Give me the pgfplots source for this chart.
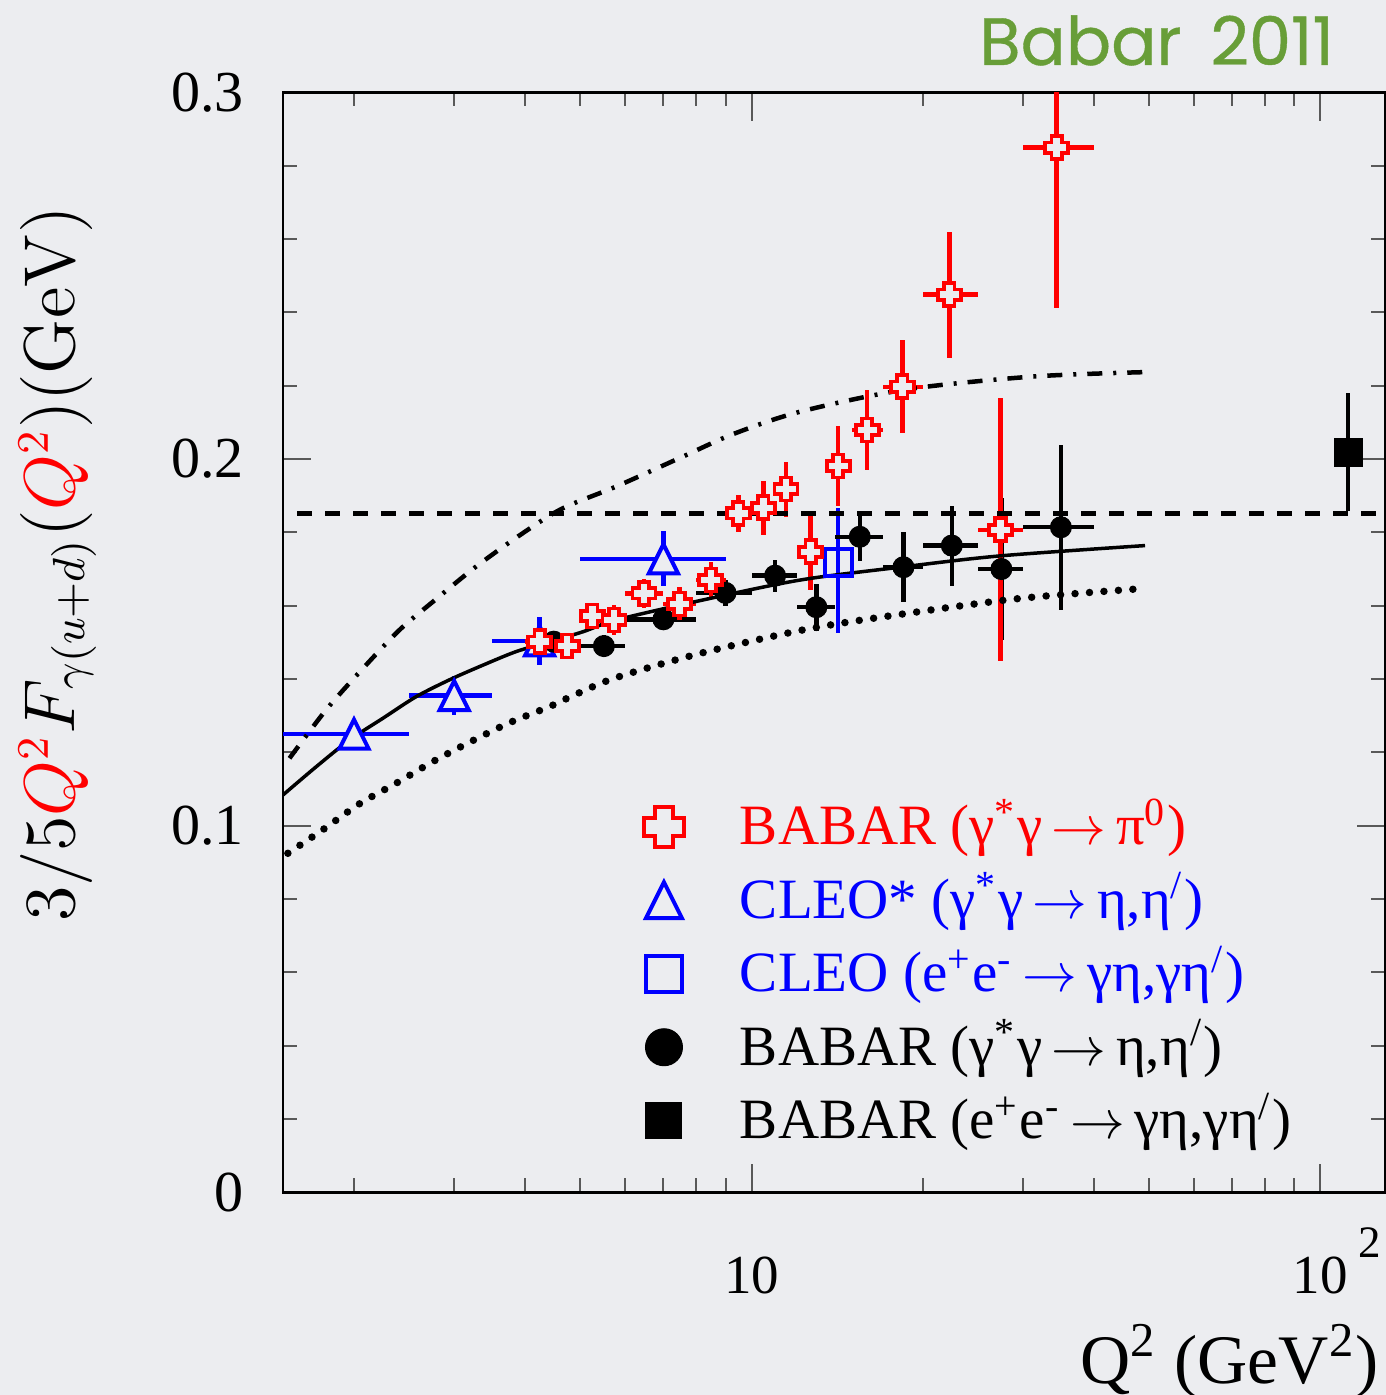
\documentclass[border=0pt]{standalone}
\usepackage[no-math]{fontspec}
\setmainfont{Liberation Serif}
\newfontfamily\titlefont{Poppins}[FakeBold=0.6]
\usepackage{pgfplots}
\usepackage{pgfplotstable}
\pgfplotsset{compat=1.18}

\definecolor{bg}{RGB}{236,237,240}
\definecolor{ttl}{RGB}{104,158,56}

\pgfdeclareplotmark{ocross}{%
 \pgfpathmoveto{\pgfqpoint{0.45\pgfplotmarksize}{\pgfplotmarksize}}%
 \pgfpathlineto{\pgfqpoint{0.45\pgfplotmarksize}{0.45\pgfplotmarksize}}%
 \pgfpathlineto{\pgfqpoint{\pgfplotmarksize}{0.45\pgfplotmarksize}}%
 \pgfpathlineto{\pgfqpoint{\pgfplotmarksize}{-0.45\pgfplotmarksize}}%
 \pgfpathlineto{\pgfqpoint{0.45\pgfplotmarksize}{-0.45\pgfplotmarksize}}%
 \pgfpathlineto{\pgfqpoint{0.45\pgfplotmarksize}{-\pgfplotmarksize}}%
 \pgfpathlineto{\pgfqpoint{-0.45\pgfplotmarksize}{-\pgfplotmarksize}}%
 \pgfpathlineto{\pgfqpoint{-0.45\pgfplotmarksize}{-0.45\pgfplotmarksize}}%
 \pgfpathlineto{\pgfqpoint{-\pgfplotmarksize}{-0.45\pgfplotmarksize}}%
 \pgfpathlineto{\pgfqpoint{-\pgfplotmarksize}{0.45\pgfplotmarksize}}%
 \pgfpathlineto{\pgfqpoint{-0.45\pgfplotmarksize}{0.45\pgfplotmarksize}}%
 \pgfpathlineto{\pgfqpoint{-0.45\pgfplotmarksize}{\pgfplotmarksize}}%
 \pgfpathclose
 \pgfusepathqfillstroke}

\pgfdeclareplotmark{otri}{%
 \pgfpathmoveto{\pgfqpoint{0pt}{\pgfplotmarksize}}%
 \pgfpathlineto{\pgfqpoint{-\pgfplotmarksize}{-\pgfplotmarksize}}%
 \pgfpathlineto{\pgfqpoint{\pgfplotmarksize}{-\pgfplotmarksize}}%
 \pgfpathclose
 \pgfusepathqfillstroke}

% BABAR gamma* gamma -> pi0
\pgfplotstableread{
x y xm xp ye
4.24 0.1502 0.24 0.26 0.0030
4.74 0.1490 0.24 0.26 0.0030
5.25 0.1572 0.25 0.25 0.0035
5.73 0.1561 0.23 0.27 0.0040
6.47 0.1634 0.47 0.53 0.0040
7.47 0.1605 0.47 0.53 0.0045
8.48 0.1670 0.48 0.52 0.0050
9.48 0.1852 0.48 0.52 0.0051
10.49 0.1867 0.49 0.51 0.0073
11.50 0.1918 0.50 0.50 0.0075
12.70 0.1747 0.70 0.80 0.0103
14.20 0.1981 0.70 0.80 0.0110
15.97 0.2079 0.97 1.03 0.0110
18.42 0.2197 1.42 1.58 0.0127
22.27 0.2448 2.27 2.73 0.0172
27.40 0.1807 2.40 2.60 0.0359
34.40 0.2849 4.40 5.60 0.0438
}\babarpi

% CLEO* gamma* gamma -> eta, eta'
\pgfplotstableread{
x y xm xp ye
2.00 0.1250 0.50 0.50 0.0030
3.00 0.1355 0.50 0.50 0.0053
4.24 0.1504 0.74 0.76 0.0065
7.00 0.1728 2.00 2.00 0.0075
}\cleotri

% CLEO e+e- -> gamma eta
\pgfplotstableread{
x y ym yp
14.2 0.1719 0.0192 0.0147
}\cleosq

% BABAR gamma* gamma -> eta, eta'
\pgfplotstableread{
x y xm xp ye
4.49 0.1502 0.49 0.51 0.0030
5.50 0.1490 0.50 0.50 0.0030
7.00 0.1563 1.00 1.00 0.0030
9.00 0.1635 1.00 1.00 0.0035
11.00 0.1682 1.00 1.00 0.0044
13.00 0.1596 1.00 1.00 0.0064
15.50 0.1788 1.50 1.50 0.0066
18.50 0.1705 1.50 1.50 0.0096
22.50 0.1764 2.50 2.50 0.0109
27.50 0.1700 2.50 2.50 0.0193
35.00 0.1814 5.00 5.00 0.0225
}\babareta

% BABAR e+e- -> gamma eta
\pgfplotstableread{
x y ye
112 0.2019 0.0162
}\babarsq

\newcommand{\arr}{\,$\rightarrow$\,}

\begin{document}
\begin{tikzpicture}[x=1pt,y=1pt]
\fill[bg] (0,0) rectangle (277.2,279);
\useasboundingbox (0,0) rectangle (277.2,279);
\begin{axis}[
  at={(56.6pt,40.5pt)}, anchor=south west,
  scale only axis, width=220.4pt, height=220.04pt,
  xmode=log, xmin=1.5, xmax=130, ymin=0, ymax=0.3,
  xtick={10,100},
  xticklabels={10,{10\rlap{\hspace{2.2pt}\raisebox{7.2pt}{\fontsize{9}{11}\selectfont 2}}}},
  minor xtick={2,3,4,5,6,7,8,9,20,30,40,50,60,70,80,90},
  ytick={0,0.1,0.2,0.3},
  yticklabels={0,0.1,0.2,0.3},
  minor y tick num=4,
  xtick pos=both, ytick pos=both,
  tick align=inside,
  major tick length=5.7pt, minor tick length=2.8pt,
  tick style={line width=0.4pt, color=black!65},
  axis line style={line width=0.5pt, black},
  xticklabel style={anchor=base, yshift=-20.3pt, font=\fontsize{11}{13}\selectfont},
  yticklabel style={xshift=-4.3pt, font=\fontsize{11.6}{13}\selectfont},
  legend image code/.code={\path (-6pt,0pt) (13.0pt,0pt); \draw[#1] plot coordinates {(0pt,3.65pt)};},
  legend style={at={(rel axis cs:0.3176,0.3704)}, anchor=north west,
     draw=none, fill=none, inner sep=0pt, outer sep=0pt,
     row sep=-0.8pt, column sep=0pt,
     font=\fontsize{11.4}{13}\selectfont,
     cells={anchor=base west, inner xsep=0pt, inner ysep=0pt, text height=10pt, text depth=3pt}},
]
% legend entries
\addlegendimage{only marks, mark=ocross, mark size=4pt, mark options={draw=red, fill=bg, line width=0.8pt}}
\addlegendentry{\textcolor{red}{BABAR (γ\textsuperscript{*}γ\arr π\textsuperscript{0})}}
\addlegendimage{only marks, mark=otri, mark size=3.6pt, mark options={draw=blue, fill=bg, line width=0.8pt}}
\addlegendentry{\textcolor{blue}{CLEO* (γ\textsuperscript{*}γ\arr η,η\textsuperscript{/})}}
\addlegendimage{only marks, mark=square, mark size=3.6pt, mark options={draw=blue, fill=bg, line width=0.8pt}}
\addlegendentry{\textcolor{blue}{CLEO (e\textsuperscript{+}e\textsuperscript{-}\arr γη,γη\textsuperscript{/})}}
\addlegendimage{only marks, mark=*, mark size=3.7pt, mark options={draw=black, fill=black, line width=0.2pt}}
\addlegendentry{BABAR (γ\textsuperscript{*}γ\arr η,η\textsuperscript{/})}
\addlegendimage{only marks, mark=square*, mark size=3.6pt, mark options={draw=black, fill=black, line width=0.2pt}}
\addlegendentry{BABAR (e\textsuperscript{+}e\textsuperscript{-}\arr γη,γη\textsuperscript{/})}

% CLEO* triangles
\addplot[forget plot, only marks, mark=otri, mark size=2.9pt,
  mark options={draw=blue, fill=bg, line width=0.8pt},
  error bars/.cd, x dir=both, x explicit, y dir=both, y explicit, error mark=none,
  error bar style={line width=0.9pt, blue}]
  table[x=x, y=y, x error minus=xm, x error plus=xp, y error=ye] {\cleotri};
% CLEO square
\addplot[forget plot, only marks, mark=square, mark size=2.7pt,
  mark options={draw=blue, fill=bg, line width=0.8pt},
  error bars/.cd, y dir=both, y explicit, error mark=none,
  error bar style={line width=0.9pt, blue}]
  table[x=x, y=y, y error minus=ym, y error plus=yp] {\cleosq};
% BABAR eta circles
\addplot[forget plot, only marks, mark=*, mark size=2.1pt,
  mark options={draw=black, fill=black, line width=0.2pt},
  error bars/.cd, x dir=both, x explicit, y dir=both, y explicit, error mark=none,
  error bar style={line width=0.9pt, black}]
  table[x=x, y=y, x error minus=xm, x error plus=xp, y error=ye] {\babareta};
% BABAR e+e- square
\addplot[forget plot, only marks, mark=square*, mark size=2.8pt,
  mark options={draw=black, fill=black, line width=0.2pt},
  error bars/.cd, y dir=both, y explicit, error mark=none,
  error bar style={line width=0.9pt, black}]
  table[x=x, y=y, y error=ye] {\babarsq};
% BABAR pi0 crosses
\addplot[forget plot, only marks, mark=ocross, mark size=2.3pt,
  mark options={draw=red, fill=bg, line width=0.75pt},
  error bars/.cd, x dir=both, x explicit, y dir=both, y explicit, error mark=none,
  error bar style={line width=0.9pt, red}]
  table[x=x, y=y, x error minus=xm, x error plus=xp, y error=ye] {\babarpi};

% asymptotic dashed line
\addplot[forget plot, black, line width=0.9pt, dash pattern=on 3pt off 2.6pt]
  coordinates {(1.59,0.1852) (130,0.1852)};
% solid curve
\addplot[forget plot, black, line width=0.7pt, smooth]
  coordinates {(1.5,0.1084) (1.716,0.1161) (1.964,0.1234) (2.247,0.1293) (2.572,0.1352)
  (2.944,0.1398) (3.371,0.1438) (3.857,0.1475) (4.415,0.1502) (5.053,0.1529) (5.78,0.1561)
  (8.12,0.1614) (12.17,0.1670) (18.25,0.1705) (27.4,0.1736) (49.2,0.1764)};
% dotted curve
\addplot[forget plot, black, line width=1.5pt, line cap=round, dash pattern=on 0pt off 2.9pt, smooth]
  coordinates {(1.53,0.0925) (1.762,0.0989) (2.045,0.1060) (2.372,0.1116) (2.753,0.1175)
  (3.214,0.1230) (3.754,0.1281) (4.415,0.1325) (4.887,0.1357) (5.78,0.1404) (8.12,0.1470)
  (12.5,0.1536) (18.75,0.1579) (29.7,0.1620) (46.96,0.1645)};
% dash-dot curve
\addplot[forget plot, black, line width=0.9pt, dash pattern=on 3pt off 2.2pt on 0.6pt off 2.2pt, smooth]
  coordinates {(1.54,0.1184) (1.786,0.1316) (2.073,0.1429) (2.404,0.1534) (2.753,0.1611)
  (3.28,0.1707) (3.963,0.1798) (4.66,0.1866) (5.78,0.1925) (7.58,0.2007) (9.28,0.2068)
  (12.17,0.2129) (18.75,0.2190) (31.3,0.2225) (49.2,0.2237)};
\end{axis}
\node[anchor=base east, inner sep=0pt, text=ttl, font=\titlefont\fontsize{13.4}{16}\selectfont] at (267,266) {Babar\, 2011};
\node[anchor=base east, inner sep=0pt, font=\fontsize{13.9}{16}\selectfont] at (276,2.4) {Q\textsuperscript{2} (GeV\textsuperscript{2})};
\node[rotate=90, anchor=base, inner sep=0pt, font=\fontsize{13.3}{16}\selectfont] at (14.8,166.2)
  {$3/5{\color{red}Q^2}F_{\gamma(u+d)}({\color{red}Q^2})(\mathrm{GeV})$};
\end{tikzpicture}
\end{document}
